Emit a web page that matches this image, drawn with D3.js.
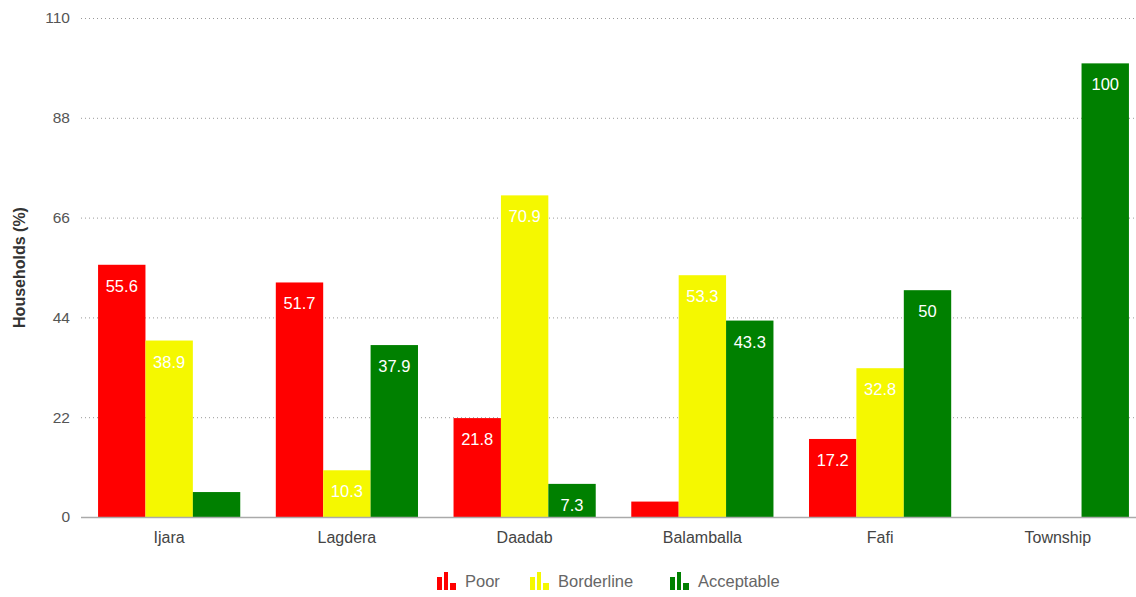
<!DOCTYPE html>
<html>
<head>
<meta charset="utf-8">
<script src="https://cdn.jsdelivr.net/npm/d3@7"></script>
<style>
  html, body { margin: 0; padding: 0; background: #fff; }
  #chart { width: 1136px; height: 597px; }
  text { font-family: "Liberation Sans", Arial, sans-serif; }
</style>
</head>
<body>
<div id="chart"></div>
<script>
  const CATEGORIES = ["Ijara", "Lagdera", "Daadab", "Balamballa", "Fafi", "Township"];
  const SERIES = ["Poor", "Borderline", "Acceptable"];
  const POOR = [55.6, 51.7, 21.8, 3.4, 17.2, 0];
  const BORDERLINE = [38.9, 10.3, 70.9, 53.3, 32.8, 0];
  const ACCEPTABLE = [5.5, 37.9, 7.3, 43.3, 50, 100];
  const Y_TICKS = [0, 22, 44, 66, 88, 110];
  const COLORS = ["#ff0000", "#f5f800", "#008000"];

  const width = 1136, height = 597;
  const margin = { top: 18, right: 0, bottom: 80, left: 81 };

  const svg = d3.select('#chart')
    .append('svg')
    .attr('width', width)
    .attr('height', height);

  const values = [POOR, BORDERLINE, ACCEPTABLE];
  const rows = CATEGORIES.map((c, i) => ({
    cat: c,
    vals: SERIES.map((s, j) => ({ series: s, idx: j, v: values[j][i] }))
  }));

  // bands run a little past the plot edge, as in the original
  const x0 = d3.scaleBand()
    .domain(CATEGORIES)
    .range([margin.left, 1146])
    .paddingInner(0.2)
    .paddingOuter(0.096);

  const x1 = d3.scaleBand()
    .domain(SERIES)
    .range([0, x0.bandwidth()]);

  const y = d3.scaleLinear()
    .domain([0, 110])
    .range([height - margin.bottom, margin.top]);

  // Gridlines
  svg.append('g')
    .selectAll('line')
    .data(Y_TICKS.filter(t => t > 0))
    .enter()
    .append('line')
    .attr('x1', margin.left)
    .attr('x2', width - margin.right)
    .attr('y1', d => y(d) + 0.5)
    .attr('y2', d => y(d) + 0.5)
    .attr('stroke', '#999')
    .attr('stroke-width', 1)
    .attr('stroke-dasharray', '1,3');

  // Y axis labels
  const yAxis = d3.axisLeft(y).tickValues(Y_TICKS).tickSize(0).tickPadding(11);
  const gy = svg.append('g')
    .attr('transform', `translate(${margin.left},0)`)
    .call(yAxis);
  gy.select('.domain').remove();
  gy.selectAll('text')
    .attr('font-size', 15.5)
    .attr('fill', '#555')
    .attr('font-family', '"Liberation Sans", Arial, sans-serif');

  // Y axis title
  svg.append('text')
    .attr('transform', `translate(25,${(margin.top + height - margin.bottom) / 2}) rotate(-90)`)
    .attr('text-anchor', 'middle')
    .attr('font-size', 16)
    .attr('font-weight', 'bold')
    .attr('fill', '#333')
    .text('Households (%)');

  // Bars
  const groups = svg.append('g')
    .selectAll('g')
    .data(rows)
    .enter()
    .append('g')
    .attr('transform', d => `translate(${x0(d.cat)},0)`);

  groups.selectAll('rect')
    .data(d => d.vals.filter(v => v.v > 0))
    .enter()
    .append('rect')
    .attr('x', d => x1(d.series))
    .attr('width', x1.bandwidth())
    .attr('y', d => y(d.v))
    .attr('height', d => y(0) - y(d.v))
    .attr('fill', d => COLORS[d.idx]);

  // Value labels inside bars
  groups.selectAll('text.val')
    .data(d => d.vals.filter(v => y(0) - y(v.v) >= 30))
    .enter()
    .append('text')
    .attr('class', 'val')
    .attr('x', d => x1(d.series) + x1.bandwidth() / 2)
    .attr('y', d => y(d.v) + 27)
    .attr('text-anchor', 'middle')
    .attr('font-size', 16.5)
    .attr('fill', '#fff')
    .text(d => d.v);

  // Baseline
  svg.append('line')
    .attr('x1', margin.left)
    .attr('x2', width - margin.right)
    .attr('y1', y(0) + 0.5)
    .attr('y2', y(0) + 0.5)
    .attr('stroke', '#aaa')
    .attr('stroke-width', 1.5);

  // X axis labels
  svg.append('g')
    .selectAll('text')
    .data(CATEGORIES)
    .enter()
    .append('text')
    .attr('x', d => x0(d) + x0.bandwidth() / 2)
    .attr('y', y(0) + 26)
    .attr('text-anchor', 'middle')
    .attr('font-size', 16)
    .attr('fill', '#444')
    .text(d => d);

  // Legend
  const legendX = [437, 530, 670];
  const legend = svg.append('g')
    .selectAll('g')
    .data(SERIES)
    .enter()
    .append('g')
    .attr('transform', (d, i) => `translate(${legendX[i]},572)`);

  // little bar-chart icon: [x, width, height]
  [[0, 5, 13], [7, 4, 18], [13, 6, 7]].forEach(([dx, w, h]) => {
    legend.append('rect')
      .attr('x', dx)
      .attr('y', 18 - h)
      .attr('width', w)
      .attr('height', h)
      .attr('fill', (d, i) => COLORS[i]);
  });

  legend.append('text')
    .attr('x', 28)
    .attr('y', 15)
    .attr('font-size', 16.5)
    .attr('fill', '#666')
    .text(d => d);
</script>
</body>
</html>
